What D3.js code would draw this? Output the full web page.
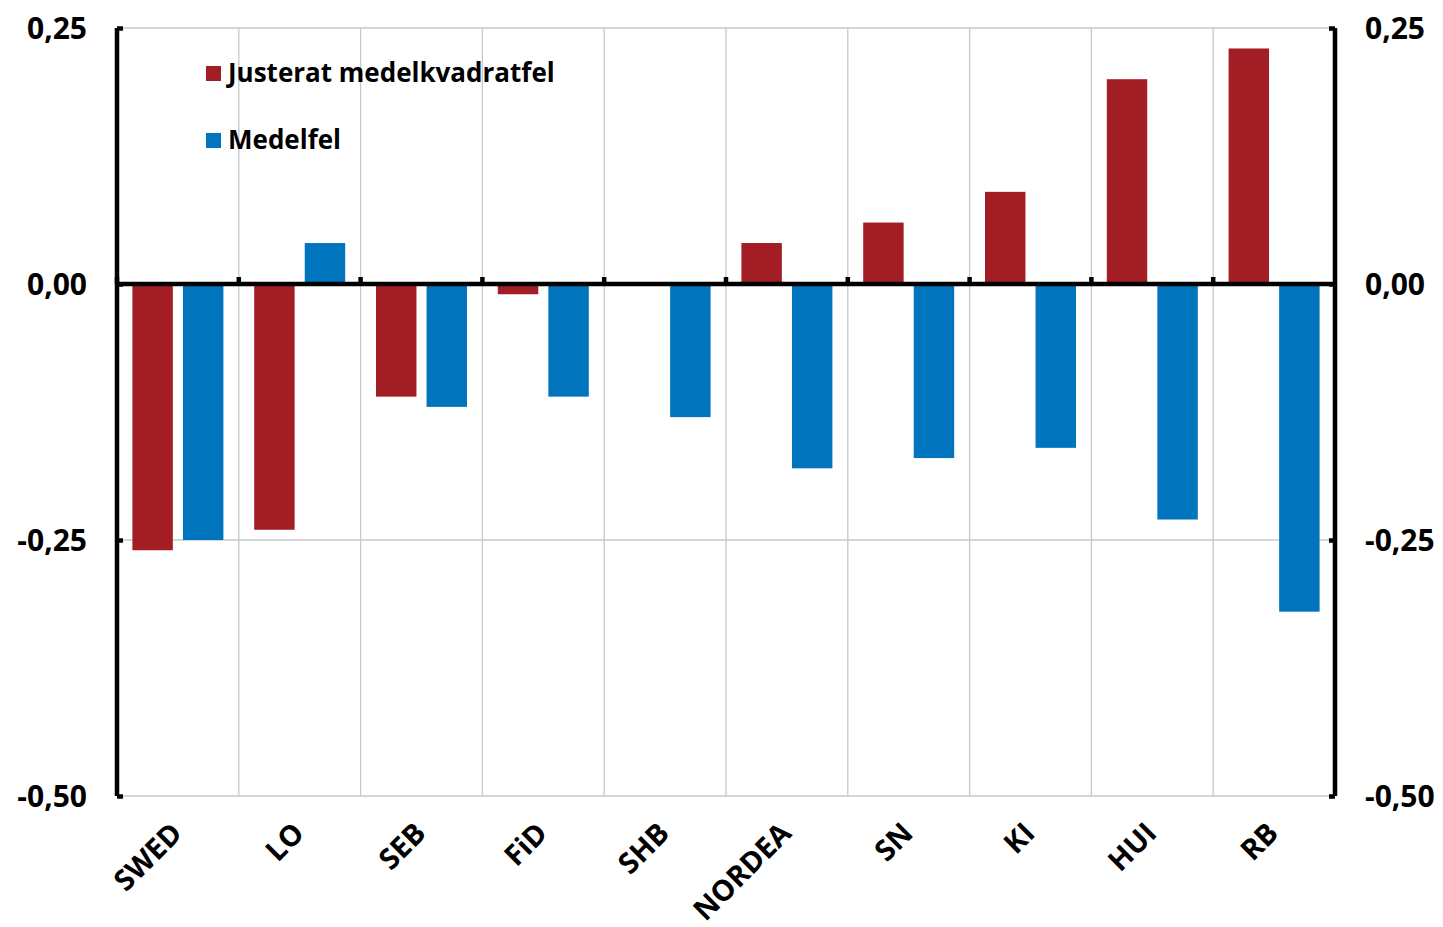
<!DOCTYPE html>
<html><head><meta charset="utf-8">
<script src="https://cdn.jsdelivr.net/npm/d3@7"></script>
<style>body{margin:0;background:#fff}svg text{font-family:"Open Sans","Noto Sans",sans-serif;font-weight:700;fill:#000}</style>
</head><body><svg id="c" width="1443" height="927"></svg>
<script>
const categories = ["SWED","LO","SEB","FiD","SHB","NORDEA","SN","KI","HUI","RB"];
const seriesNames = ["Justerat medelkvadratfel","Medelfel"];
const justerat = [-0.26,-0.24,-0.11,-0.01,0.0,0.04,0.06,0.09,0.20,0.23];
const medelfel = [-0.25,0.04,-0.12,-0.11,-0.13,-0.18,-0.17,-0.16,-0.23,-0.32];
const yTicks = [0.25,0,-0.25,-0.5];
const colors = ["#A31D24","#0075BE"];

const svg = d3.select("#c");
const L=117, R=1335, T=28, B=796;
const x = d3.scaleBand().domain(categories).range([L,R]);
const x1 = d3.scaleBand().domain(seriesNames).range([15.4, x.bandwidth()-15.4]).paddingInner(0.2);
const y = d3.scaleLinear().domain([-0.5,0.25]).range([B,T]);
const fmt = v => d3.format(".2f")(v).replace(".",",").replace("\u2212","-");

// gridlines
const g = svg.append("g");
g.selectAll("line.h").data(yTicks).join("line")
  .attr("x1",L).attr("x2",R).attr("y1",d=>y(d)).attr("y2",d=>y(d))
  .attr("stroke","#c8c8c8").attr("stroke-width",1.3);
g.selectAll("line.v").data(categories.slice(1)).join("line")
  .attr("x1",d=>x(d)).attr("x2",d=>x(d)).attr("y1",T).attr("y2",B)
  .attr("stroke","#c8c8c8").attr("stroke-width",1.3);

// bars
const data = categories.map((c,i)=>({c, vals:[justerat[i],medelfel[i]]}));
const bg = svg.append("g").selectAll("g").data(data).join("g").attr("transform",d=>`translate(${x(d.c)},0)`);
bg.selectAll("rect").data(d=>d.vals.map((v,j)=>({v,s:seriesNames[j],j}))).join("rect")
  .attr("x",d=>x1(d.s)).attr("width",x1.bandwidth())
  .attr("y",d=>y(Math.max(0,d.v))).attr("height",d=>Math.abs(y(d.v)-y(0)))
  .attr("fill",d=>colors[d.j]);

// left / right axes
const left = svg.append("g").attr("transform",`translate(${L},0)`)
  .call(d3.axisRight(y).tickValues(yTicks).tickSize(6).tickFormat(""));
left.select(".domain").attr("d",`M0,${T}V${B}`).attr("stroke","#000").attr("stroke-width",4.5);
left.selectAll(".tick line").attr("stroke","#000").attr("stroke-width",4.5);
const right = svg.append("g").attr("transform",`translate(${R},0)`)
  .call(d3.axisLeft(y).tickValues(yTicks).tickSize(6).tickFormat(""));
right.select(".domain").attr("d",`M0,${T}V${B}`).attr("stroke","#000").attr("stroke-width",4.5);
right.selectAll(".tick line").attr("stroke","#000").attr("stroke-width",4.5);

// y labels
svg.append("g").selectAll("text").data(yTicks).join("text")
  .attr("x",87).attr("y",d=>y(d)).attr("dy","0.36em").attr("text-anchor","end")
  .style("font-size","30px").text(fmt);
svg.append("g").selectAll("text").data(yTicks).join("text")
  .attr("x",1365).attr("y",d=>y(d)).attr("dy","0.36em").attr("text-anchor","start")
  .style("font-size","30px").text(fmt);

// zero line with ticks up
const zero = svg.append("g").attr("transform",`translate(0,${y(0)})`)
  .call(d3.axisTop(x).tickSize(0).tickFormat(""));
zero.select(".domain").attr("d",`M${L},0H${R}`).attr("stroke","#000").attr("stroke-width",4.5);
zero.selectAll(".tick").remove();
zero.selectAll("line.bt").data(categories).join("line")
  .attr("x1",d=>x(d)).attr("x2",d=>x(d)).attr("y1",0).attr("y2",-7)
  .attr("stroke","#000").attr("stroke-width",4.5);

// category labels
svg.append("g").selectAll("text").data(categories).join("text")
  .attr("transform",d=>`translate(${x(d)+x.bandwidth()/2+6},${835}) rotate(-45)`)
  .attr("text-anchor","end").style("font-size","29px").text(d=>d);

// legend
const lg = svg.append("g").selectAll("g").data(seriesNames).join("g")
  .attr("transform",(d,i)=>`translate(206,${66+i*67})`);
lg.append("rect").attr("width",15).attr("height",15).attr("fill",(d,i)=>colors[i]);
lg.append("text").attr("x",22).attr("y",16).style("font-size","26px").text(d=>d);
</script></body></html>
